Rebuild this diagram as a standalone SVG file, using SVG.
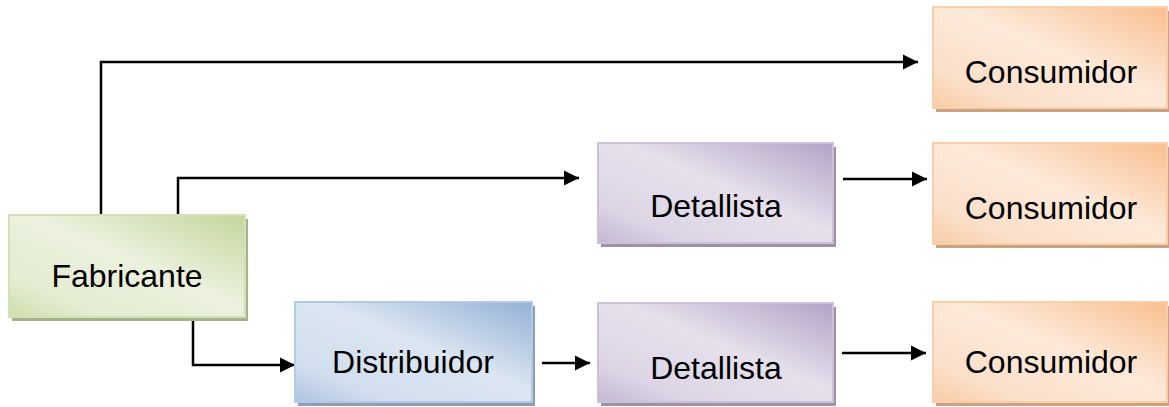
<svg xmlns="http://www.w3.org/2000/svg" width="1169" height="407" viewBox="0 0 1169 407">
  <defs>
    <!-- diagonal "subtle" fills: deeper tint at top-right, light centre, soft tint at bottom-left -->
    <linearGradient id="gGreen" x1="1" y1="0" x2="0" y2="1">
      <stop offset="0" stop-color="#c3d69b"/>
      <stop offset="0.45" stop-color="#ebf1de"/>
      <stop offset="0.8" stop-color="#e4ecd2"/>
      <stop offset="1" stop-color="#cfdeae"/>
    </linearGradient>
    <linearGradient id="gBlue" x1="1" y1="0" x2="0" y2="1">
      <stop offset="0" stop-color="#93b1d6"/>
      <stop offset="0.45" stop-color="#dce6f2"/>
      <stop offset="0.8" stop-color="#d2deee"/>
      <stop offset="1" stop-color="#aec4e0"/>
    </linearGradient>
    <linearGradient id="gPurple" x1="1" y1="0" x2="0" y2="1">
      <stop offset="0" stop-color="#b3a2c7"/>
      <stop offset="0.45" stop-color="#e6e0ec"/>
      <stop offset="0.8" stop-color="#ddd5e6"/>
      <stop offset="1" stop-color="#c4b7d3"/>
    </linearGradient>
    <linearGradient id="gOrange" x1="1" y1="0" x2="0" y2="1">
      <stop offset="0" stop-color="#f9bf8f"/>
      <stop offset="0.45" stop-color="#fde9d9"/>
      <stop offset="0.8" stop-color="#fbe0ca"/>
      <stop offset="1" stop-color="#f8cba5"/>
    </linearGradient>
    <marker id="arrow" markerUnits="userSpaceOnUse" markerWidth="16" markerHeight="16" viewBox="0 0 16 16" refX="15" refY="8" orient="auto">
      <path d="M0,0.5 L15,8 L0,15.5 Z" fill="#000"/>
    </marker>
  </defs>
  <style>
    .label { font-family: "Liberation Sans", Arial, sans-serif; font-size: 32px; fill: #000; text-anchor: middle; }
    .green { fill: url(#gGreen); stroke: #d3e1b8; stroke-width: 2; }
    .blue { fill: url(#gBlue); stroke: #b4c9e3; stroke-width: 2; }
    .purple { fill: url(#gPurple); stroke: #cbc0d8; stroke-width: 2; }
    .orange { fill: url(#gOrange); stroke: #f9cfaa; stroke-width: 2; }
    .sh-green { fill: #a6b28c; }
    .sh-blue { fill: #8d9db3; }
    .sh-purple { fill: #9c93a6; }
    .sh-orange { fill: #c9a283; }
    .conn { fill: none; stroke: #000; stroke-width: 2.5; marker-end: url(#arrow); }
  </style>

  <rect width="1169" height="407" fill="#fff"/>

  <g id="connectors">
    <path class="conn" d="M101,215 V62 H918"/>
    <path class="conn" d="M178,215 V178 H579"/>
    <path class="conn" d="M843,179 H927"/>
    <path class="conn" d="M193,318 V365 H295"/>
    <path class="conn" d="M542,363 H590"/>
    <path class="conn" d="M842,353 H926"/>
  </g>

  <g id="fabricante">
    <rect class="sh-green" x="12" y="219" width="236" height="102"/>
    <rect class="green" x="9" y="215" width="236" height="102"/>
    <text class="label" x="127" y="287">Fabricante</text>
  </g>

  <g id="distribuidor">
    <rect class="sh-blue" x="298" y="306" width="237" height="100"/>
    <rect class="blue" x="295" y="302" width="237" height="100"/>
    <text class="label" x="413" y="373">Distribuidor</text>
  </g>

  <g id="detallista-1">
    <rect class="sh-purple" x="601" y="147" width="235" height="100"/>
    <rect class="purple" x="598" y="143" width="235" height="100"/>
    <text class="label" x="716" y="217">Detallista</text>
  </g>

  <g id="detallista-2">
    <rect class="sh-purple" x="601" y="307" width="235" height="99"/>
    <rect class="purple" x="598" y="303" width="235" height="99"/>
    <text class="label" x="716" y="379">Detallista</text>
  </g>

  <g id="consumidor-1">
    <rect class="sh-orange" x="936" y="11" width="234" height="101"/>
    <rect class="orange" x="933" y="7" width="234" height="101"/>
    <text class="label" x="1051" y="83">Consumidor</text>
  </g>

  <g id="consumidor-2">
    <rect class="sh-orange" x="936" y="147" width="234" height="101"/>
    <rect class="orange" x="933" y="143" width="234" height="101"/>
    <text class="label" x="1051" y="219">Consumidor</text>
  </g>

  <g id="consumidor-3">
    <rect class="sh-orange" x="936" y="306" width="234" height="100"/>
    <rect class="orange" x="933" y="302" width="234" height="100"/>
    <text class="label" x="1051" y="373">Consumidor</text>
  </g>
</svg>
